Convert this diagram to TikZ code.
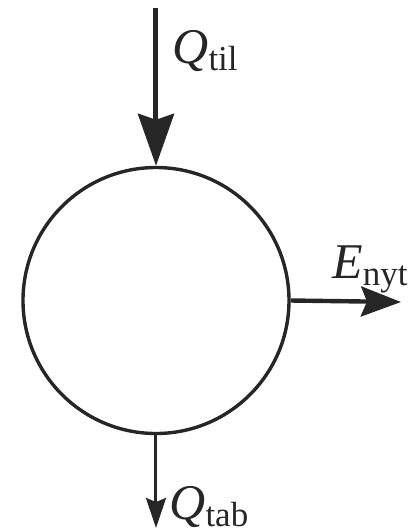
\documentclass[tikz,border=0pt]{standalone}
\usepackage{fontspec}
\setmainfont{Liberation Serif}
\usetikzlibrary{arrows.meta}

\begin{document}
\begin{tikzpicture}[x=0.5pt,y=-0.5pt,black!85,
        lbl/.style={anchor=base west,inner sep=0pt,font=\fontsize{25}{29}\selectfont}]
        \useasboundingbox (0,0) rectangle (409,532);
        % System
        \node[draw,circle,line width=1.7pt,minimum size=133pt,inner sep=0pt] (sys) at (156,300.5) {};

        % Free ends of the flows
        \coordinate (til) at (156,8);
        \coordinate (nyt) at (401,302);
        \coordinate (tab) at (156,528);

        % Arrows
        \draw[line width=2.5pt,-{Stealth[length=26pt,width=18pt,inset=3pt]}] (til) -- (sys.north);
        \draw[line width=2.2pt,-{Stealth[length=20pt,width=15pt,inset=3pt]}] (sys.east) -- (nyt);
        \draw[line width=1.5pt,-{Stealth[length=15pt,width=10pt,inset=2pt]}] (sys.south) -- (tab);

        % Labels
        \node[lbl] (qtil) at (172,63) {\textit{Q\/}\textsubscript{til}};
        \node[lbl] (enyt) at (332,278) {\textit{E\/}\textsubscript{nyt}};
        \node[lbl] (qtab) at (169,519) {\textit{Q\/}\textsubscript{tab}};
    \end{tikzpicture}
\end{document}
